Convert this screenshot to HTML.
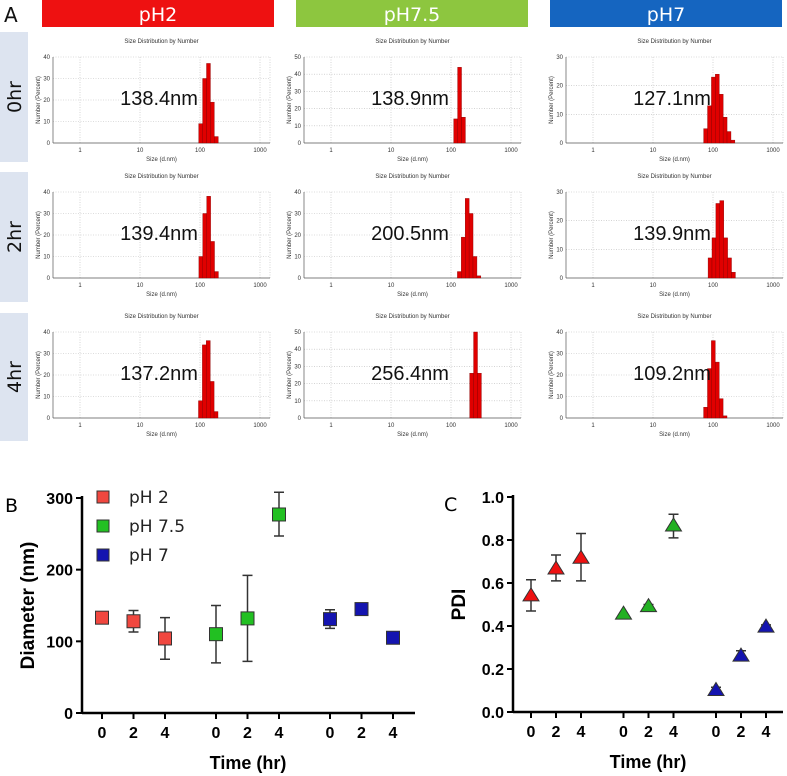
<!DOCTYPE html>
<html><head><meta charset="utf-8">
<style>
html,body{margin:0;padding:0;background:#fff;}
svg{display:block;font-family:"Liberation Sans",sans-serif;}
.hdr{font-family:"DejaVu Sans","Liberation Sans",sans-serif;}
</style></head>
<body>
<svg id="fig" width="787" height="776" viewBox="0 0 787 776" xmlns="http://www.w3.org/2000/svg">
  <text x="4" y="22" font-size="20" fill="#111" class="hdr">A</text>
  <rect x="42" y="0" width="232" height="27" fill="#ee1111"/>
  <text x="158" y="21" font-size="19" fill="#fff" text-anchor="middle" class="hdr">pH2</text>
  <rect x="296" y="0" width="232" height="27" fill="#8dc63f"/>
  <text x="412" y="21" font-size="19" fill="#fff" text-anchor="middle" class="hdr">pH7.5</text>
  <rect x="550" y="0" width="232" height="27" fill="#1565c0"/>
  <text x="666" y="21" font-size="19" fill="#fff" text-anchor="middle" class="hdr">pH7</text>
  <rect x="0" y="32" width="28" height="130" fill="#dde4f0"/>
  <text transform="translate(21,97) rotate(-90)" font-size="19" text-anchor="middle" fill="#111" class="hdr">0hr</text>
  <rect x="0" y="172" width="28" height="130" fill="#dde4f0"/>
  <text transform="translate(21,237) rotate(-90)" font-size="19" text-anchor="middle" fill="#111" class="hdr">2hr</text>
  <rect x="0" y="313" width="28" height="128" fill="#dde4f0"/>
  <text transform="translate(21,377) rotate(-90)" font-size="19" text-anchor="middle" fill="#111" class="hdr">4hr</text>
  <g id="mini"></g>
  <g id="chartB"></g>
  <g id="chartC"></g>
</svg>
<script>
const NS='http://www.w3.org/2000/svg';
function mk(parent,tag,attrs,text){const e=document.createElementNS(NS,tag);for(const k in attrs)e.setAttribute(k,attrs[k]);if(text!==undefined)e.textContent=text;parent.appendChild(e);return e;}

// ---- Mini size distribution data ----
const miniLabels=['138.4nm','138.9nm','127.1nm','139.4nm','200.5nm','139.9nm','137.2nm','256.4nm','109.2nm'];
const miniCenters=[138.4,138.9,127.1,139.4,200.5,139.9,137.2,256.4,109.2];
const miniYMax=[40,50,30,40,40,30,40,50,40];
const miniBars=[
 [9,30,37,19,3],
 [14,44,15],
 [5,13,23,24,17,9,4,1],
 [10,30,38,17,3],
 [3,19,37,30,10,1],
 [7,14,26,27,14,7,2],
 [8,34,36,17,3],
 [26,50,26],
 [5,23,36,26,9,1]
];
const colOff=[0,251,513], rowOff=[0,135,275];
const mini=document.getElementById('mini');
for(let i=0;i<9;i++){
  const c=i%3,r=Math.floor(i/3);
  const ox=colOff[c],oy=rowOff[r];
  const x1=80+ox, dec=60, L=x1-27, R=x1+3*dec+10, T=57+oy, B=143+oy;
  const g=mk(mini,'g',{});
  
  
  const xs=v=>x1+Math.log10(v)*dec;
  const ys=v=>B-(v/miniYMax[i])*(B-T);
  mk(g,'text',{x:(L+R)/2,y:T-14,'font-size':6,'text-anchor':'middle',fill:'#333'},'Size Distribution by Number');
  const step=miniYMax[i]/ (miniYMax[i]===30?3:(miniYMax[i]===50?5:4));
  for(let v=0;v<=miniYMax[i]+0.01;v+=step){
    if(v>0)mk(g,'line',{x1:L,x2:R,y1:ys(v),y2:ys(v),stroke:'#bbb','stroke-width':0.6,'stroke-dasharray':'1,1.5'});
    mk(g,'text',{x:L-3,y:ys(v)+2,'font-size':6,'text-anchor':'end',fill:'#333'},String(v));
  }
  [1,10,100,1000].forEach(v=>{
    mk(g,'line',{x1:xs(v),x2:xs(v),y1:T,y2:B,stroke:'#bbb','stroke-width':0.6,'stroke-dasharray':'1,1.5'});
    mk(g,'text',{x:xs(v),y:B+9,'font-size':6,'text-anchor':'middle',fill:'#333'},String(v));
  });
  mk(g,'line',{x1:R,x2:R,y1:T,y2:B,stroke:'#bbb','stroke-width':0.6,'stroke-dasharray':'1,1.5'});
  mk(g,'line',{x1:L,x2:L,y1:T,y2:B,stroke:'#555','stroke-width':0.7});
  mk(g,'line',{x1:L,x2:R,y1:B,y2:B,stroke:'#555','stroke-width':0.7});
  mk(g,'text',{x:(L+R)/2,y:B+18,'font-size':6,'text-anchor':'middle',fill:'#333'},'Size (d.nm)');
  mk(g,'text',{transform:`translate(${L-13},${(T+B)/2}) rotate(-90)`,'font-size':6,'text-anchor':'middle',fill:'#333'},'Number (Percent)');
  const bw=0.065, bars=miniBars[i];
  const start=Math.log10(miniCenters[i])-bars.length*bw/2;
  bars.forEach((h,k)=>{
    const a=x1+(start+k*bw)*dec, b=x1+(start+(k+1)*bw)*dec;
    const rc=mk(g,'rect',{x:a,y:ys(h),width:b-a,height:B-ys(h),fill:'#e00000',stroke:'#800','stroke-width':0.4});
    
    
  });
  const lab=mk(g,'text',{x:x1+79,y:T+48,'font-size':20,'text-anchor':'middle',fill:'#111'},miniLabels[i]);
  
  
}

// ---- Chart B data ----
const bTicks=['0','2','4','0','2','4','0','2','4'];
const bGroups=['pH 2','pH 7.5','pH 7'];
const bColors=['#f0473f','#22c022','#1414b0'];
const bMean=[[133,128,104],[110,132,277],[131,145,105]];
const bLo=[[133,113,75],[70,72,247],[118,138,105]];
const bHi=[[133,143,133],[150,192,308],[144,150,105]];
const bYTicks=[0,100,200,300];
// ---- Chart C data ----
const cMean=[[0.54,0.665,0.715],[0.455,0.49,0.865],[0.10,0.26,0.395]];
const cLo=[[0.47,0.61,0.61],[0.455,0.48,0.81],[0.09,0.245,0.385]];
const cHi=[[0.615,0.73,0.83],[0.455,0.50,0.92],[0.115,0.285,0.405]];
const cYTicks=[0,0.2,0.4,0.6,0.8,1.0];
const cColors=['#ee1111','#22b022','#1414b0'];

function drawChart(gid,o){
  const g=document.getElementById(gid);
  
  
  const ys=v=>o.B-(v-o.ymin)/(o.ymax-o.ymin)*(o.B-o.T);
  const xs=(gi,ti)=>o.x0+gi*o.gap+ti*o.step;
  mk(g,'line',{x1:o.L,x2:o.L,y1:o.T-2,y2:o.B+1,stroke:'#000','stroke-width':2.5});
  mk(g,'line',{x1:o.L,x2:o.R,y1:o.B,y2:o.B,stroke:'#000','stroke-width':2.5});
  o.yt.forEach(v=>{
    mk(g,'line',{x1:o.L-6,x2:o.L,y1:ys(v),y2:ys(v),stroke:'#000','stroke-width':2});
    const t=mk(g,'text',{x:o.L-9,y:ys(v)+6,'font-size':16,'font-weight':'bold','text-anchor':'end'},o.fmt(v));
    
    
  });
  for(let gi=0;gi<3;gi++)for(let ti=0;ti<3;ti++){
    const x=xs(gi,ti);
    mk(g,'line',{x1:x,x2:x,y1:o.B,y2:o.B+6,stroke:'#000','stroke-width':2});
    const t=mk(g,'text',{x:x,y:o.B+25,'font-size':16,'font-weight':'bold','text-anchor':'middle'},bTicks[gi*3+ti]);
    
    
  }
  const xt=mk(g,'text',{x:o.xtX,y:o.B+56,'font-size':18,'font-weight':'bold','text-anchor':'middle'},'Time (hr)');
  
  
  const yt=mk(g,'text',{transform:`translate(${o.L-48},${(o.T+o.B)/2}) rotate(-90)`,'font-size':19,'font-weight':'bold','text-anchor':'middle'},o.ytitle);
  
  
  const pl=mk(g,'text',{x:o.plX,y:o.T+14,'font-size':19,class:'hdr'},o.panel);
  
  
  for(let gi=0;gi<3;gi++)for(let ti=0;ti<3;ti++){
    const x=xs(gi,ti),m=o.mean[gi][ti];
    if(o.hi[gi][ti]>m+0.0001||o.lo[gi][ti]<m-0.0001){
      const e=mk(g,'path',{d:`M${x},${ys(o.lo[gi][ti])}V${ys(o.hi[gi][ti])}M${x-5},${ys(o.lo[gi][ti])}h10M${x-5},${ys(o.hi[gi][ti])}h10`,stroke:'#333','stroke-width':1.5,fill:'none'});
      
      
    }
    const y=ys(m);
    let mark;
    if(o.shape==='sq') mark=mk(g,'rect',{x:x-6.5,y:y-6.5,width:13,height:13,fill:o.colors[gi],stroke:'#333','stroke-width':1});
    else mark=mk(g,'path',{d:`M${x},${y-8}L${x+8},${y+5}L${x-8},${y+5}Z`,fill:o.colors[gi],stroke:'#333','stroke-width':1});
    
    
  }
}
drawChart('chartB',{name:'chart-b-diameter',L:82,R:415,T:498,B:713,ymin:0,ymax:300,yt:bYTicks,fmt:v=>String(v),
  x0:102,gap:114,step:31.5,mean:bMean,lo:bLo,hi:bHi,colors:bColors,shape:'sq',ytitle:'Diameter (nm)',panel:'B',plX:5,xtX:248});
drawChart('chartC',{name:'chart-c-pdi',L:513,R:783,T:497,B:712,ymin:0,ymax:1,yt:cYTicks,fmt:v=>v.toFixed(1),
  x0:531,gap:92.5,step:25,mean:cMean,lo:cLo,hi:cHi,colors:cColors,shape:'tri',ytitle:'PDI',panel:'C',plX:444,xtX:648});
// legend for B
const lg=document.getElementById('chartB');
bGroups.forEach((name,k)=>{
  const y=497+k*29;
  const r=mk(lg,'rect',{x:97,y:y-6,width:12,height:12,fill:bColors[k],stroke:'#333','stroke-width':1});
  
  
  const t=mk(lg,'text',{x:129,y:y+6,'font-size':17,fill:'#222',class:'hdr'},name);
  
  
});
</script>
</body></html>
